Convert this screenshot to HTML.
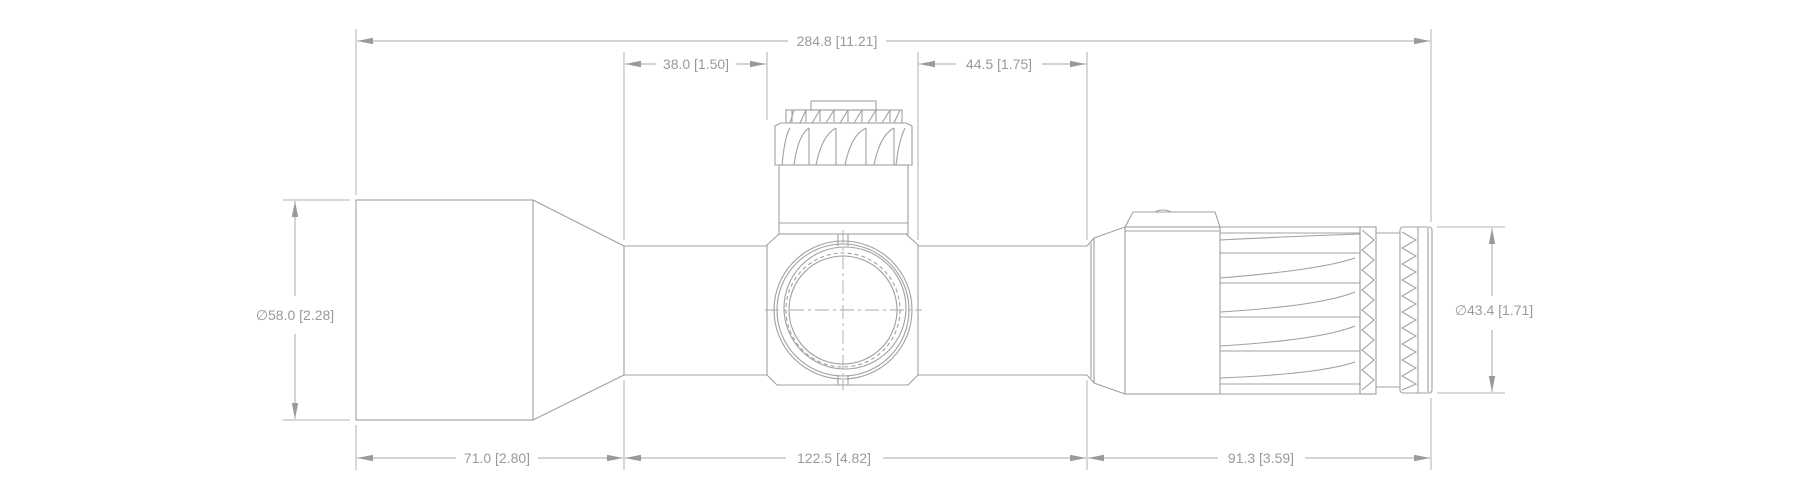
<!DOCTYPE html>
<html><head><meta charset="utf-8"><style>
html,body{margin:0;padding:0;background:#fff;}
svg{display:block;}
text{font-family:"Liberation Sans",sans-serif;font-size:14px;fill:#9a9a9a;}
</style></head><body>
<svg width="1800" height="500" viewBox="0 0 1800 500" xmlns="http://www.w3.org/2000/svg">
<defs>
<marker id="a" markerWidth="16" markerHeight="8" refX="16" refY="4" orient="auto-start-reverse" markerUnits="userSpaceOnUse">
<path d="M16,4 L0,0.8 L0,7.2 Z" fill="#9a9a9a"/>
</marker>
</defs>
<g stroke="#b0b0b0" stroke-width="1" fill="none">
<line x1="356" y1="29" x2="356" y2="195"/>
<line x1="1431" y1="29" x2="1431" y2="222"/>
<line x1="624" y1="52" x2="624" y2="240"/>
<line x1="767" y1="52" x2="767" y2="120"/>
<line x1="918" y1="52" x2="918" y2="240"/>
<line x1="1087" y1="52" x2="1087" y2="240"/>
<line x1="356" y1="425" x2="356" y2="470"/>
<line x1="624" y1="380" x2="624" y2="470"/>
<line x1="1087" y1="380" x2="1087" y2="470"/>
<line x1="1431" y1="398" x2="1431" y2="470"/>
<line x1="283" y1="200" x2="350" y2="200"/>
<line x1="283" y1="420" x2="350" y2="420"/>
<line x1="1437" y1="227" x2="1505" y2="227"/>
<line x1="1437" y1="393" x2="1505" y2="393"/>
</g>
<g stroke="#a8a8a8" stroke-width="1" fill="none">
<line x1="357" y1="41" x2="788" y2="41" marker-start="url(#a)"/>
<line x1="886" y1="41" x2="1430" y2="41" marker-end="url(#a)"/>
<line x1="625" y1="64" x2="656" y2="64" marker-start="url(#a)"/>
<line x1="736" y1="64" x2="766" y2="64" marker-end="url(#a)"/>
<line x1="919" y1="64" x2="956" y2="64" marker-start="url(#a)"/>
<line x1="1042" y1="64" x2="1086" y2="64" marker-end="url(#a)"/>
<line x1="357" y1="458" x2="456" y2="458" marker-start="url(#a)"/>
<line x1="538" y1="458" x2="623" y2="458" marker-end="url(#a)"/>
<line x1="625" y1="458" x2="786" y2="458" marker-start="url(#a)"/>
<line x1="883" y1="458" x2="1086" y2="458" marker-end="url(#a)"/>
<line x1="1088" y1="458" x2="1218" y2="458" marker-start="url(#a)"/>
<line x1="1305" y1="458" x2="1430" y2="458" marker-end="url(#a)"/>
<line x1="295" y1="201" x2="295" y2="296" marker-start="url(#a)"/>
<line x1="295" y1="334" x2="295" y2="419" marker-end="url(#a)"/>
<line x1="1492" y1="228" x2="1492" y2="296" marker-start="url(#a)"/>
<line x1="1492" y1="330" x2="1492" y2="392" marker-end="url(#a)"/>
</g>
<g>
<text x="837" y="46" text-anchor="middle">284.8 [11.21]</text>
<text x="696" y="69" text-anchor="middle">38.0 [1.50]</text>
<text x="999" y="69" text-anchor="middle">44.5 [1.75]</text>
<text x="497" y="463" text-anchor="middle">71.0 [2.80]</text>
<text x="834" y="463" text-anchor="middle">122.5 [4.82]</text>
<text x="1261" y="463" text-anchor="middle">91.3 [3.59]</text>
<text x="295" y="320" text-anchor="middle">∅58.0 [2.28]</text>
<text x="1494" y="315" text-anchor="middle">∅43.4 [1.71]</text>
</g>
<g stroke="#a0a0a0" stroke-width="1.1" fill="none">
<rect x="356" y="200" width="177" height="220"/>
<path d="M533,200 L624,246 M533,420 L624,375"/>
<path d="M624,246 H767 M624,375 H767 M624,246 V375"/>
<path d="M918,246 H1087 M918,375 H1087"/>
<path d="M767,245 L779,234 H906 L918,245 V375 L908,385 H777 L767,375 Z"/>
<rect x="779" y="165" width="129" height="69"/>
<line x1="779" y1="223" x2="908" y2="223"/>
<path d="M775,126 L781,123 H906 L912,126 V165 H775 Z"/>
<rect x="786" y="110" width="116" height="13"/>
<rect x="811" y="101" width="65" height="9"/>
<path d="M790,123 L794,110 M800,123 L806,110 M812,123 L820,110 M826,123 L834,110 M840,123 L848,110 M854,123 L862,110 M868,123 L876,110 M882,123 L890,110 M894,123 L900,110 M792,110 V122 M806,110 V122 M820,110 V122 M834,110 V122 M848,110 V122 M862,110 V122 M876,110 V122 M890,110 V122"/>
<path d="M782,165 Q785,135 790,128 M794,165 Q798,135 809,128 M816,165 Q822,135 836,128 M845,165 Q851,135 866,128 M874,165 Q880,135 894,128 M896,165 Q899,140 905,128 M809,128 V165 M836,128 V165 M866,128 V165 M894,128 V165"/>
<circle cx="843" cy="310" r="69"/>
<circle cx="843" cy="310" r="66"/>
<circle cx="845" cy="308" r="61"/>
<circle cx="843" cy="310" r="57" stroke-dasharray="4 3"/>
<circle cx="843" cy="310" r="54"/>
<path d="M838,234 V246 M848,234 V246 M838,375 V385 M848,375 V385"/>
</g>
<g stroke="#a8a8a8" stroke-width="0.9" fill="none" stroke-dasharray="14 4 3 4">
<line x1="843" y1="230" x2="843" y2="390"/>
<line x1="765" y1="310" x2="922" y2="310"/>
</g>
<g stroke="#a0a0a0" stroke-width="1.1" fill="none">
<path d="M1087,246 L1094,238 L1125,227 M1087,375 L1094,383 L1125,394"/>
<path d="M1094,238 V383 M1091,243 V378"/>
<rect x="1125" y="227" width="95" height="167"/>
<line x1="1125" y1="231" x2="1220" y2="231"/>
<path d="M1125,227 L1133,212 H1215 L1220,227"/>
<path d="M1155,212 Q1163,208 1171,212"/>
<path d="M1220,227 H1360 M1220,394 H1360 V227"/>
<path d="M1220,233 H1360 M1220,240 Q1300,236 1360,234"/>
<path d="M1220,253 H1360 M1220,278 Q1320,270 1355,258"/>
<path d="M1220,283 H1360 M1220,312 Q1320,306 1355,292"/>
<path d="M1220,317 H1360 M1220,346 Q1320,340 1355,326"/>
<path d="M1220,351 H1360 M1220,378 Q1320,374 1355,362"/>
<path d="M1220,384 H1360"/>
<rect x="1360" y="227" width="16" height="167"/>
<path d="M1362,230 L1374,240 L1362,250 L1374,260 L1362,270 L1374,280 L1362,290 L1374,300 L1362,310 L1374,320 L1362,330 L1374,340 L1362,350 L1374,360 L1362,370 L1374,380 L1362,390"/>
<path d="M1376,233 H1400 M1376,387 H1400"/>
<rect x="1400" y="227" width="32" height="166" rx="3"/>
<path d="M1418,227 V393 M1428,228 V392"/>
<path d="M1402,232 L1416,240 L1402,248 L1416,256 L1402,264 L1416,272 L1402,280 L1416,288 L1402,296 L1416,304 L1402,312 L1416,320 L1402,328 L1416,336 L1402,344 L1416,352 L1402,360 L1416,368 L1402,376 L1416,384 L1402,390"/>
</g>
</svg>
</body></html>
